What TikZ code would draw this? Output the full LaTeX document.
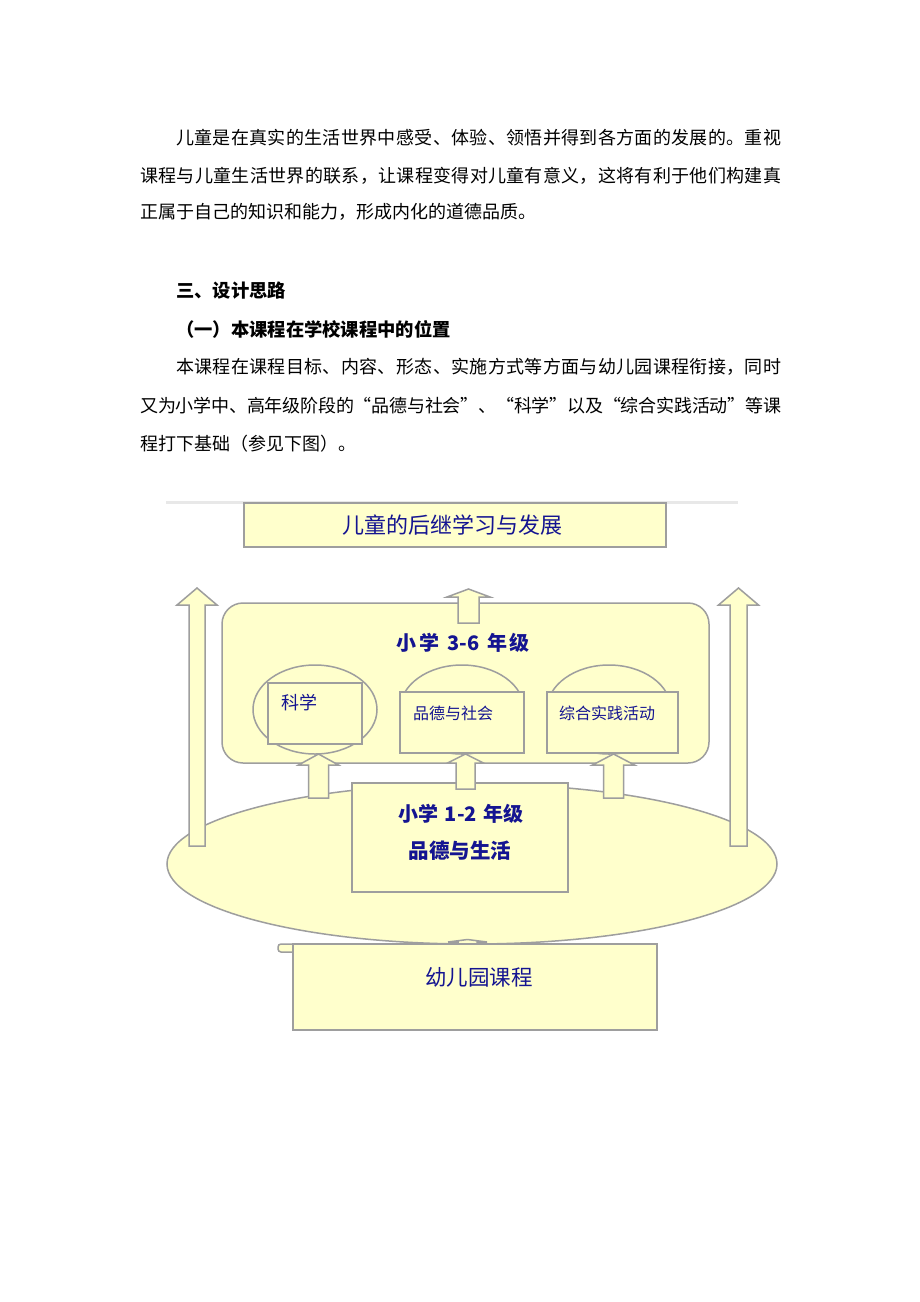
\documentclass[tikz,border=0pt]{standalone}
\usepackage{fontspec}
\usetikzlibrary{shapes.geometric}
\setmainfont{Noto Sans CJK SC}
\definecolor{ly}{RGB}{255,255,204}
\definecolor{bgray}{RGB}{158,158,158}
\definecolor{navy}{RGB}{20,20,145}
\definecolor{rule}{RGB}{232,232,232}
\def\spreadit#1{\ifx\relax#1\else#1\hskip 0pt plus 1fil minus 1pt\expandafter\spreadit\fi}
\newcommand\spreadline[2]{\hbox to #1{\spreadit#2\relax\unskip}}
\newcommand\fatup[6]{% cx, tip y, head base y, bottom y, half shaft, half head
  \draw[arr] (#1-#6,#3) -- (#1,#2) -- (#1+#6,#3) -- (#1+#5,#3) -- (#1+#5,#4)
    -- (#1-#5,#4) -- (#1-#5,#3) -- cycle;}
\begin{document}
\begin{tikzpicture}[x=1pt,y=-1pt,
  body/.style={anchor=west,inner sep=0pt,font=\fontsize{18}{20}\selectfont},
  head/.style={anchor=west,inner sep=0pt,font=\fontsize{18.3}{20}\selectfont\bfseries},
  box/.style={draw=bgray,fill=ly,line width=1.5pt,inner sep=0pt},
  arr/.style={draw=bgray,fill=ly,line width=1.5pt,line join=miter},
  lbl/.style={inner sep=0pt,text=navy},
  ttl/.style={inner sep=0pt,text=navy,font=\fontsize{20}{22}\selectfont\bfseries}]
\useasboundingbox (0,0) rectangle (920,1302);
\fill[white] (0,0) rectangle (920,1302);
% ---- text ----
\node[body] (p1) at (176,138) {\spreadline{605pt}{儿童是在真实的生活世界中感受、体验、领悟并得到各方面的发展的。重视}};
\node[body] (p2) at (140,175.5) {\spreadline{641pt}{课程与儿童生活世界的联系，让课程变得对儿童有意义，这将有利于他们构建真}};
\node[body] (p3) at (140,212) {正属于自己的知识和能力，形成内化的道德品质。};
\node[head] (h1) at (176,291) {三、设计思路};
\node[head] (h2) at (176,329) {（一）本课程在学校课程中的位置};
\node[body] (q1) at (176,367) {\spreadline{605pt}{本课程在课程目标、内容、形态、实施方式等方面与幼儿园课程衔接，同时}};
\node[body] (q2) at (140,405.5) {\spreadline{641pt}{又为小学中、高年级阶段的“品德与社会”、“科学”以及“综合实践活动”等课}};
\node[body] (q3) at (140,443.5) {程打下基础（参见下图）。};
% ---- diagram ----
\draw[rule,line width=3pt] (166,502) -- (738,502);
\node[box,minimum width=422pt,minimum height=44pt] (top) at (455,525) {};
\node[lbl,font=\fontsize{22}{22}\selectfont] (toptxt) at (452,525) {儿童的后继学习与发展};
% big ellipse
\node[box,ellipse,minimum width=610pt,minimum height=160pt] (big) at (472,864) {};
% container 3-6
\node[box,rounded corners=21pt,minimum width=487pt,minimum height=160pt] (c36) at (465.5,683) {};
\fatup{468.5}{589}{597}{623}{10.5}{21.5}
\node[ttl] (g36) at (463,643) {小\hspace{0.15em}学\hspace{0.4em}3-6\hspace{0.4em}年\hspace{0.1em}级};
% science
\node[box,ellipse,minimum width=124pt,minimum height=89pt] (e1) at (315,709.5) {};
\node[box,minimum width=94pt,minimum height=61pt] (b1) at (315,713.5) {};
\node[lbl,anchor=west,font=\fontsize{18}{18}\selectfont] (t1) at (281,703) {科学};
% moral & society
\node[box,ellipse,minimum width=124pt,minimum height=89pt] (e2) at (462,709.5) {};
\node[box,minimum width=124pt,minimum height=61pt] (b2) at (462,722.5) {};
\node[lbl,anchor=west,font=\fontsize{16}{16}\selectfont] (t2) at (413,713) {品德与社会};
% practice
\node[box,ellipse,minimum width=124pt,minimum height=89pt] (e3) at (609,709.5) {};
\node[box,minimum width=131pt,minimum height=61pt] (b3) at (612.5,722.5) {};
\node[lbl,anchor=west,font=\fontsize{16}{16}\selectfont] (t3) at (559,713) {综合实践活动};
% 1-2 box
\node[box,minimum width=216pt,minimum height=109pt] (b12) at (460,837.5) {};
\node[ttl] (g12) at (461,814) {小学\hspace{0.3em}1-2\hspace{0.3em}年级};
\node[ttl,font=\fontsize{20.5}{22}\selectfont\bfseries] (g12b) at (460,851) {品德与生活};
% arrows
\fatup{318.5}{754}{765}{798}{10}{20}
\fatup{465.5}{754}{763}{789}{9.5}{18}
\fatup{613.5}{754}{765}{798}{10}{21}
\fatup{197}{588}{605}{846}{8}{20}
\fatup{738.5}{588}{605}{846}{8.5}{20}
% kindergarten box
\draw[arr] (467.5,939.5) -- (487,942) -- (477,942) -- (477,947) -- (458,947) -- (458,942) -- (448,942) -- cycle;
\draw[arr,rounded corners=3pt] (300,944) -- (278,944) -- (278,952) -- (300,952);
\node[box,minimum width=364pt,minimum height=86pt] (kg) at (475,987) {};
\node[lbl,font=\fontsize{21.5}{22}\selectfont] (kgt) at (479,977) {幼儿园课程};
\end{tikzpicture}
\end{document}
